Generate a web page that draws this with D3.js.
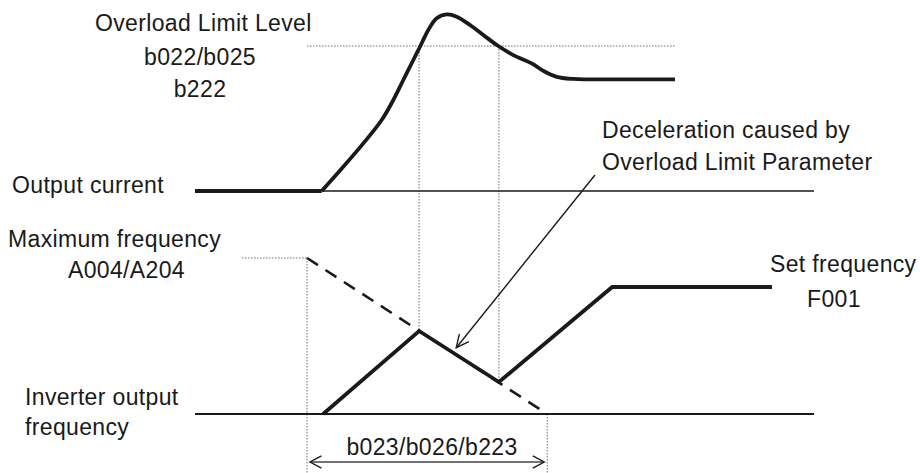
<!DOCTYPE html>
<html>
<head>
<meta charset="utf-8">
<script src="https://cdn.jsdelivr.net/npm/d3@7"></script>
<style>
  html, body { margin: 0; padding: 0; background: #fff; }
  svg { display: block; }
  text { font-family: "Liberation Sans", Arial, Helvetica, sans-serif; fill: #1a1a1a; }
</style>
</head>
<body>
<svg id="chart" width="920" height="473"></svg>
<script>
// ---------- data (time in arbitrary units 0..100) ----------
// Output current (0 = no load, 100 = peak)
const currentTime  = [0, 20.47, 23.96, 27.19, 30.16, 32.04, 33.65, 35.27, 36.35, 37.69, 39.05, 40.66, 42.28, 44.43, 46.58, 49.0, 51.42, 54.39, 56.27, 58.43, 61.11, 63.81, 77.54];
const currentValue = [0, 0,     13.7,  26.9,  40.1,  51.4,  62.7,  74.0,  81.5,  91.0,  97.6,  99.8,  98.5,  93.8,  88.1,  81.9, 76.8,  72.1,  67.9,  64.5,  63.3,  63.1,  63.1];
const currentBaseEnd = 100;          // thin zero line extends to end of time axis
const overloadLevel = 81.9;          // b022/b025/b222
const overloadLevelSpan = [18.1, 77.54];

// Inverter output frequency (0 = stop, 100 = maximum frequency)
const freqTime  = [20.7, 36.2, 49.1, 67.4, 93.2];
const freqValue = [0,    53.2, 20.5, 81.4, 81.4];
const maxFreq = 100;                 // A004/A204
const decelStart = 18.1;             // deceleration line starts at max freq
const decelEnd = 56.9;               // ... and reaches zero here (b023/b026/b223)
const crossTimes = [36.2, 49.1];     // where current crosses the overload level
const maxFreqLabelStart = 7.6;

// labels
const labels = {
  overload: ["Overload Limit Level", "b022/b025", "b222"],
  current: "Output current",
  decel: ["Deceleration caused by", "Overload Limit Parameter"],
  maxf: ["Maximum frequency", "A004/A204"],
  setf: ["Set frequency", "F001"],
  inv: ["Inverter output", "frequency"],
  span: "b023/b026/b223"
};

// ---------- scales ----------
const x = d3.scaleLinear().domain([0, 100]).range([195, 814]);
const yC = d3.scaleLinear().domain([0, 100]).range([191, 14]);
const yF = d3.scaleLinear().domain([0, 100]).range([414, 258]);

const svg = d3.select("#chart");
const ink = "#1a1a1a";
const dotted = "#6d6d6d";

// ---------- dotted guides ----------
const g = svg.append("g").attr("fill", "none");
function dot(x1, y1, x2, y2) {
  g.append("line").attr("x1", x1).attr("y1", y1).attr("x2", x2).attr("y2", y2)
    .attr("stroke", dotted).attr("stroke-width", 1).attr("stroke-dasharray", "1.5,1.5");
}
dot(x(overloadLevelSpan[0]), yC(overloadLevel), x(overloadLevelSpan[1]), yC(overloadLevel));
dot(x(crossTimes[0]), yC(overloadLevel), x(crossTimes[0]), yF(freqValue[1]));
dot(x(crossTimes[1]), yC(overloadLevel), x(crossTimes[1]), yF(freqValue[2]));
dot(x(maxFreqLabelStart), yF(maxFreq), x(decelStart), yF(maxFreq));
dot(x(decelStart), yF(maxFreq), x(decelStart), 473);
dot(x(decelEnd), yF(0), x(decelEnd), 473);

// ---------- baselines ----------
g.append("line").attr("x1", x(currentTime[1])).attr("x2", x(currentBaseEnd))
  .attr("y1", yC(0)).attr("y2", yC(0)).attr("stroke", ink).attr("stroke-width", 1.5);
g.append("line").attr("x1", x(0)).attr("x2", x(currentBaseEnd))
  .attr("y1", yF(0)).attr("y2", yF(0)).attr("stroke", ink).attr("stroke-width", 2);

// ---------- dashed deceleration ramp ----------
g.append("line").attr("x1", x(decelStart)).attr("y1", yF(maxFreq))
  .attr("x2", x(decelEnd)).attr("y2", yF(0))
  .attr("stroke", ink).attr("stroke-width", 2.6).attr("stroke-dasharray", "13,9");

// ---------- output current curve ----------
const cData = currentTime.map((t, i) => [t, currentValue[i]]);
const flat = cData.slice(0, 2);
const rise = cData.slice(1);
g.append("path").datum(flat)
  .attr("d", d3.line().x(d => x(d[0])).y(d => yC(d[1])))
  .attr("stroke", ink).attr("stroke-width", 3.8);
g.append("path").datum(rise)
  .attr("d", d3.line().x(d => x(d[0])).y(d => yC(d[1])).curve(d3.curveCatmullRom.alpha(0.5)))
  .attr("stroke", ink).attr("stroke-width", 3.8).attr("stroke-linejoin", "round");

// ---------- frequency ----------
const fData = freqTime.map((t, i) => [t, freqValue[i]]);
const fLine = d3.line().x(d => x(d[0])).y(d => yF(d[1]));
g.append("path").datum(fData).attr("d", fLine)
  .attr("stroke", ink).attr("stroke-width", 3.8).attr("stroke-linejoin", "miter");

// ---------- arrows ----------
function head(tipX, tipY, fromX, fromY, len, spread, sw) {
  const a = Math.atan2(fromY - tipY, fromX - tipX);
  const p1 = [tipX + len * Math.cos(a + spread), tipY + len * Math.sin(a + spread)];
  const p2 = [tipX + len * Math.cos(a - spread), tipY + len * Math.sin(a - spread)];
  g.append("path").attr("d", `M${p1[0]},${p1[1]}L${tipX},${tipY}L${p2[0]},${p2[1]}`)
    .attr("stroke", ink).attr("stroke-width", sw);
}
// annotation arrow: from label to the deceleration segment
const annFrom = [595, 175];
const annT = 42.2;
const annTo = [x(annT), yF(freqValue[1] + (freqValue[2] - freqValue[1]) * (annT - freqTime[1]) / (freqTime[2] - freqTime[1])) - 7];
g.append("line").attr("x1", annFrom[0]).attr("y1", annFrom[1]).attr("x2", annTo[0]).attr("y2", annTo[1])
  .attr("stroke", ink).attr("stroke-width", 1.4);
head(annTo[0], annTo[1], annFrom[0], annFrom[1], 14, 0.45, 1.4);

// span arrow
const spanY = 462;
const sx1 = x(decelStart) + 3, sx2 = x(decelEnd) - 3;
g.append("line").attr("x1", sx1).attr("x2", sx2).attr("y1", spanY).attr("y2", spanY)
  .attr("stroke", "#444").attr("stroke-width", 1.4);
head(sx1, spanY, sx2, spanY, 13, 0.5, 1.4);
head(sx2, spanY, sx1, spanY, 13, 0.5, 1.4);

// ---------- text ----------
const fs = 23;
function txt(s, tx, ty, anchor) {
  svg.append("text").attr("x", tx).attr("y", ty).attr("font-size", fs)
    .attr("letter-spacing", "0.35px")
    .attr("text-anchor", anchor || "start").text(s);
}
txt(labels.overload[0], 95, 31);
txt(labels.overload[1], 200, 65, "middle");
txt(labels.overload[2], 200, 97, "middle");
txt(labels.current, 12, 193);
txt(labels.decel[0], 602, 138);
txt(labels.decel[1], 602, 170);
txt(labels.maxf[0], 8, 247);
txt(labels.maxf[1], 68, 278);
txt(labels.setf[0], 770, 272);
txt(labels.setf[1], 807, 307);
txt(labels.inv[0], 25, 405);
txt(labels.inv[1], 25, 435);
txt(labels.span, 432, 455, "middle");
</script>
</body>
</html>
